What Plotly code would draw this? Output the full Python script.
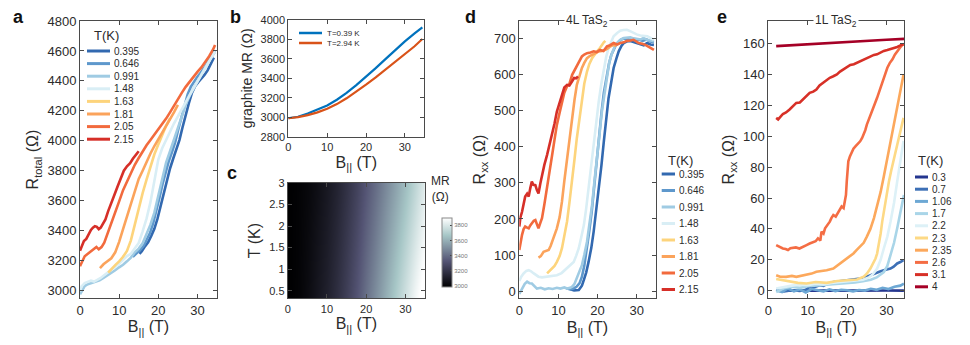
"""
Parallel-field magnetoresistance of TaS2 devices, five panels (a-e) in one figure.
Legends are drawn by hand so their row spacing can match the original layout.
"""

import plotly.graph_objects as go


W, H = 970, 345
FONT = "Liberation Sans, Arial, Helvetica, sans-serif"
INK = "#2b2b2b"
AXIS = "#4a4a4a"

# ── Panel a: total resistance (4L device + graphite) ─────────────────────────
A_TEMPS = ["0.395", "0.646", "0.991", "1.48", "1.63", "1.81", "2.05", "2.15"]
A_COLORS = ["#3269b0", "#5e98cc", "#9fcbe3", "#d9eef5",
            "#fdd47c", "#fba35b", "#f26a3d", "#d62f28"]

A_B_0395 = [15.2, 15.8, 16.6, 17.4, 18.2, 19.0, 19.8, 20.6, 21.4, 22.2, 23.0, 23.8,
            24.6, 25.4, 26.2, 27.0, 27.8, 28.6, 29.4, 30.2, 31.0, 31.8, 32.6, 33.4, 34.2]
A_R_0395 = [3245, 3262, 3295, 3322, 3365, 3412, 3480, 3560, 3650, 3740, 3815, 3880,
            3940, 4005, 4090, 4175, 4250, 4320, 4365, 4392, 4415, 4440, 4470, 4510, 4555]
A_B_0646 = [13.5, 14.5, 15.5, 16.3, 17.1, 17.9, 18.7, 19.5, 20.3, 21.1, 21.9, 22.7, 23.5,
            24.3, 25.1, 25.9, 26.7, 27.5, 28.3, 29.1, 29.9, 30.7, 31.5, 32.3, 33.1, 33.9, 34.5]
A_R_0646 = [3225, 3248, 3275, 3300, 3338, 3385, 3450, 3530, 3620, 3712, 3795, 3865, 3925,
            3990, 4075, 4160, 4240, 4310, 4360, 4395, 4425, 4450, 4478, 4510, 4545, 4578, 4600]
A_B_0991 = [0, 0.5, 1.2, 2, 3, 4, 5, 6, 7, 8, 9, 10, 11, 12, 13, 14, 15, 16, 17, 18,
            19, 20, 21, 22, 23, 24, 25, 26, 27, 28, 29, 30, 31, 32, 33, 34.5]
A_R_0991 = [2975, 3000, 3030, 3042, 3050, 3062, 3068, 3085, 3100, 3118, 3135, 3155, 3172,
            3195, 3220, 3255, 3280, 3315, 3375, 3440, 3520, 3625, 3745, 3855, 3930, 4010,
            4085, 4165, 4240, 4300, 4350, 4400, 4445, 4490, 4535, 4595]
A_B_148 = [0, 0.4, 1.2, 2, 2.8, 3.6, 4.4, 5.2, 6, 7, 8, 9, 10, 11, 12, 13, 14, 15, 16,
           17, 18, 19, 20, 21, 22, 23, 24, 25, 26, 27, 28, 29, 30, 31, 32, 33, 34.5]
A_R_148 = [2995, 3028, 3050, 3058, 3066, 3060, 3070, 3082, 3098, 3115, 3138, 3160, 3178,
           3205, 3230, 3245, 3280, 3318, 3395, 3480, 3590, 3745, 3875, 3950, 4010, 4060,
           4115, 4165, 4215, 4262, 4305, 4350, 4395, 4440, 4483, 4527, 4598]
A_B_163 = [7.2, 8, 9, 10, 11, 12, 13, 14, 15, 16, 17, 18, 19, 20, 21, 22, 23]
A_R_163 = [3120, 3145, 3170, 3195, 3225, 3265, 3335, 3440, 3550, 3650, 3740, 3830,
           3910, 3975, 4040, 4100, 4150]
A_B_181 = [5.1, 6, 7, 8, 9, 10, 11, 12, 13, 14, 15, 16, 17, 18, 19, 20, 21, 22, 23, 24, 25]
A_R_181 = [3150, 3175, 3195, 3215, 3255, 3325, 3410, 3495, 3580, 3665, 3745, 3800, 3860,
           3915, 3965, 4010, 4050, 4095, 4140, 4190, 4240]
A_B_205 = [0, 0.6, 1.2, 2, 2.8, 3.5, 4.2, 4.8, 5.5, 6.2, 7, 8, 9, 10, 11, 12, 13, 14,
           15, 16, 17, 18, 19, 20, 21, 22, 23, 24, 25, 26, 27, 28, 29, 30, 31, 32, 33, 34, 34.5]
A_R_205 = [3162, 3200, 3229, 3245, 3262, 3280, 3290, 3275, 3290, 3320, 3375, 3445, 3520,
           3595, 3670, 3730, 3790, 3840, 3885, 3930, 3970, 4005, 4040, 4075, 4110, 4148,
           4190, 4235, 4280, 4320, 4360, 4395, 4430, 4460, 4490, 4525, 4565, 4610, 4640]
A_B_215 = [0, 0.5, 1, 1.6, 2.2, 2.8, 3.3, 3.8, 4.3, 4.8, 5.3, 5.9, 6.5, 7.2, 8, 8.8,
           9.6, 10.4, 11.2, 12, 12.8, 13.5, 14.2, 15]
A_R_215 = [3265, 3300, 3330, 3345, 3380, 3405, 3420, 3430, 3425, 3410, 3420, 3445, 3475,
           3530, 3580, 3640, 3695, 3750, 3800, 3830, 3850, 3880, 3905, 3930]

# ── Panel b: graphite magnetoresistance ─────────────────────────────────────
B_FIELD = [0, 2.5, 5, 7.5, 10, 12.5, 15, 17.5, 20, 22.5, 25, 27.5, 30, 32.5, 34.5]
B_MR_039 = [2990, 3005, 3038, 3078, 3122, 3180, 3250, 3330, 3415, 3505, 3598, 3690,
            3780, 3862, 3925]
B_MR_294 = [2990, 3002, 3022, 3050, 3088, 3135, 3195, 3262, 3335, 3410, 3490, 3568,
            3650, 3730, 3805]
B_LABELS = ["T=0.39 K", "T=2.94 K"]
B_COLORS = ["#0072bd", "#d95319"]

# ── Panel c: graphite MR map (rows are the two measured temperatures) ────────
C_TEMPS = [0.39, 2.94]
C_TICKS = [3000, 3200, 3400, 3600, 3800]
BONE = [[0.0, "rgb(0,0,1)"], [0.375, "rgb(84,84,116)"],
        [0.75, "rgb(167,199,199)"], [1.0, "rgb(255,255,255)"]]

# ── Panel d: 4L TaS2 ──────────────────────────────────────────────────────
D_B_0395 = [13, 14, 15.2, 16, 16.5, 17.1, 17.7, 18.4, 19, 19.7, 20.3, 21, 21.6, 22.2,
            22.8, 23.5, 24.1, 24.8, 25.4, 26.1, 26.7, 27.4, 28, 28.6, 29.2, 30, 30.9,
            31.8, 32.7, 33.5, 34.4]
D_R_0395 = [5, 2, 3, 15, 31, 52, 81, 120, 165, 225, 285, 350, 415, 480, 535, 580, 619,
            645, 665, 680, 688, 692, 694, 693, 691, 688, 685, 682, 688, 684, 683]
D_B_0646 = [12, 13, 14, 14.6, 15.4, 16, 16.6, 17.2, 17.8, 18.5, 19.1, 19.8, 20.4, 21,
            21.6, 22.3, 22.9, 23.5, 24.2, 24.8, 25.5, 26.1, 26.8, 27.5, 28.3, 29, 29.8,
            30.6, 31.5, 32.5, 33.5, 34.4]
D_R_0646 = [8, 5, 8, 12, 22, 40, 70, 110, 160, 220, 290, 360, 430, 495, 550, 595, 630,
            655, 672, 685, 693, 698, 701, 700, 697, 699, 695, 697, 694, 698, 692, 690]
D_B_0991 = [0, 0.7, 1.4, 2, 2.6, 3.2, 3.9, 4.5, 5.5, 6.5, 7.5, 8.5, 9.6, 10.5, 11.5,
            12.2, 13, 13.5, 14.1, 14.7, 15.4, 16, 16.6, 17.3, 17.9, 18.6, 19.2, 19.9,
            20.5, 21.1, 21.8, 22.4, 23, 23.7, 24.3, 25, 25.8, 26.7, 27.5, 28.4, 29.2,
            30.1, 31, 31.8, 32.6, 33.5, 34.4]
D_R_0991 = [-8, 8, 20, 26, 22, 21, 12, 7, 9, 5, 8, 6, 9, 7, 10, 7, 9, 12, 20, 35, 52,
            72, 100, 137, 185, 239, 305, 369, 435, 498, 552, 600, 635, 660, 676, 688,
            697, 702, 703, 704, 701, 700, 698, 702, 697, 695, 693]
D_B_148 = [0, 0.5, 1.1, 1.8, 2.4, 3, 3.7, 4.3, 4.9, 5.8, 7.1, 8.3, 9.6, 10.8, 12.2, 13,
           13.9, 14.5, 15.2, 15.8, 16.5, 17.1, 17.7, 18.4, 19, 19.6, 20.3, 21, 21.6,
           22.2, 22.8, 23.5, 24.1, 25, 25.8, 26.6, 27.5, 28.3, 29.2, 30, 30.9, 31.8,
           32.7, 33.5, 34.4]
D_R_148 = [28, 40, 49, 56, 58, 55, 49, 44, 40, 38, 40, 42, 44, 50, 63, 70, 81, 97, 119,
           148, 183, 230, 285, 345, 406, 468, 526, 578, 619, 650, 674, 692, 707, 716,
           722, 724, 725, 721, 716, 712, 709, 707, 707, 702, 697]
D_B_163 = [7.1, 7.7, 8.4, 9, 9.6, 10.3, 10.9, 11.5, 12.2, 12.8, 13.5, 14.1, 14.7, 15.4,
           16, 16.6, 17.3, 17.9, 18.6, 19.2, 19.9, 20.5, 21.1, 21.6, 22]
D_R_163 = [49, 55, 63, 70, 81, 97, 119, 150, 193, 245, 304, 365, 424, 482, 535, 575,
           609, 630, 646, 656, 665, 673, 683, 690, 694]
D_B_181 = [4.9, 5.5, 6.2, 6.8, 7.5, 8, 8.4, 9, 9.6, 10.3, 10.9, 11.5, 12.2, 12.8, 13.5,
           14.1, 14.7, 15.4, 16, 16.6, 17.3, 18, 18.6, 19.4, 20.3, 21.1, 22, 22.7, 23.3,
           24.1, 24.8]
D_R_181 = [93, 97, 109, 112, 114, 125, 137, 152, 174, 205, 248, 305, 369, 425, 480,
           530, 572, 600, 619, 633, 646, 652, 656, 660, 665, 666, 669, 674, 679, 683, 680]
D_B_205 = [0, 0.3, 0.7, 1.1, 1.5, 2, 2.4, 2.8, 3.2, 3.7, 4.1, 4.5, 4.9, 5.4, 5.8, 6.4,
           7.1, 7.7, 8.4, 9, 9.6, 10.3, 10.9, 11.5, 12.2, 12.8, 13.5, 14.1, 14.7, 15.4,
           16, 16.6, 17.3, 18.2, 19, 19.8, 20.6, 21.5, 22.4, 23.2, 24.1, 25, 25.8, 26.7,
           27.5, 28.4, 29.2, 29.8, 30.5, 31.4, 32.2, 33.3, 34.4]
D_R_205 = [114, 135, 156, 172, 179, 176, 174, 182, 188, 195, 197, 185, 174, 190, 202,
           240, 285, 330, 378, 420, 461, 495, 526, 550, 568, 575, 600, 612, 628, 640,
           651, 656, 660, 662, 665, 663, 669, 666, 679, 682, 688, 684, 688, 690, 694,
           695, 697, 693, 688, 686, 683, 676, 669]
D_B_215 = [0, 0.3, 0.7, 1.1, 1.5, 2, 2.4, 2.8, 3.2, 3.6, 4.1, 4.5, 4.9, 5.4, 5.8, 6.4,
           7.1, 7.7, 8.4, 9, 9.6, 10.3, 10.9, 11.5, 12.2, 12.8, 13.5, 14, 14.5, 15]
D_R_215 = [179, 205, 220, 245, 262, 270, 262, 285, 304, 295, 294, 280, 271, 300, 322,
           350, 378, 405, 433, 465, 498, 525, 549, 565, 572, 570, 582, 591, 590, 595]

# ── Panel e: 1L TaS2 ──────────────────────────────────────────────────────
E_TEMPS = ["0.3", "0.7", "1.06", "1.7", "2.2", "2.3", "2.35", "2.6", "3.1", "4"]
E_COLORS = ["#24368f", "#3d70b6", "#6da8d4", "#a9d5e8", "#ddf1f7",
            "#fdd985", "#fca85c", "#f46d44", "#d73027", "#a50026"]

E_B_03 = [2, 10, 20, 30, 34.4]
E_R_03 = [0, -0.2, 0, 0.1, 0]
E_B_07 = [2, 4, 6, 8, 9.5, 10.5, 11.5, 12.5, 13, 14, 15, 16.5, 18, 20, 21.5, 23.3,
          24.5, 25.9, 27, 27.6, 28.5, 29.3, 30.2, 31, 31.8, 32.7, 33.5, 34.3]
E_R_07 = [0, -0.5, 0.2, -0.3, 0.5, 2.4, 2, 3, 3.5, 3, 4.5, 5.6, 6, 6.7, 7, 7.8, 8.5,
          10, 11, 12, 12.5, 13.2, 13.8, 14.3, 15.5, 17.6, 18.5, 19.7]
E_B_106 = [2, 3.5, 5, 6.5, 8, 9.5, 11, 12.5, 14, 15.5, 17, 18.5, 20, 21.5, 23, 24.5,
           26, 27.5, 29, 30.5, 32, 33.5, 34.4]
E_R_106 = [0.5, -1, 1.5, -0.5, 0.8, -1.2, 1, 0.2, -0.5, 0.8, -0.3, 0.5, 0.2, -0.6,
           0.4, 0, 1.2, 0.5, 1.8, 1, 2.5, 3.2, 4.5]
E_B_17 = [2, 4, 6, 8, 10, 12, 14, 16, 18, 20, 22, 24, 26, 27.5, 28.5, 29.3, 30.2, 31,
          31.9, 32.7, 33.4, 34, 34.4]
E_R_17 = [-1, 1.5, 2.5, 1.8, 2.8, 3.2, 3.5, 3.8, 4.5, 5, 5.2, 6, 7, 8.5, 10.2, 12, 16,
          23, 31, 40.4, 49, 57, 62]
E_B_22 = [2, 4, 6, 8, 10, 12, 14, 16, 18, 20, 22, 24, 25.5, 26.5, 27.6, 28.5, 29.3,
          30.2, 31, 31.9, 32.7, 33.5, 34.3]
E_R_22 = [1.3, 2.5, 3.2, 3.8, 3.5, 4.5, 4, 5, 5.5, 6, 6.2, 7, 8.5, 10.5, 14.3, 20,
          27.3, 35, 44.7, 57, 70.7, 83, 97]
E_B_23 = [2, 3.5, 5.6, 7.5, 9.7, 12, 14.8, 17.5, 20, 22.5, 24.2, 25, 25.9, 26.6, 27.2,
          27.6, 28, 28.5, 28.9, 29.3, 29.7, 30.2, 30.6, 31.2, 31.9, 32.6, 33.2, 33.8, 34.3]
E_R_23 = [7.5, 6.7, 5.6, 5, 4.6, 5.6, 5, 6.2, 6.7, 7.2, 9, 11, 14.3, 17.5, 20.8, 24,
          29.5, 37, 44.7, 51, 57.7, 64, 70.7, 78, 86, 93, 99, 106, 112]
E_B_235 = [2, 3, 4.5, 6, 7.1, 8.5, 9.7, 11, 12.2, 13.5, 14.8, 16.5, 18.2, 19.9, 21.6,
           22.5, 23.3, 24.2, 25, 25.9, 26.8, 27.6, 28.5, 29.3, 30.2, 31, 31.8, 32.6,
           33.4, 34.3]
E_R_235 = [10, 9, 8.9, 9.5, 8.9, 9.5, 10, 11, 12.2, 12.5, 13.2, 14.3, 17.6, 20.8, 24.1,
           26.5, 28.5, 31, 35, 40, 47, 55, 64, 74, 86, 97, 108, 119, 130, 140]
E_B_26 = [2, 2.8, 3.7, 4.4, 5, 5.6, 6.2, 7, 7.9, 8.8, 9.7, 10.5, 11.4, 12, 12.6, 13.2,
          13.5, 14, 14.4, 15, 15.6, 16, 16.5, 17.1, 17.8, 18.2, 18.6, 19.1, 19.5, 19.7,
          19.9, 20.1, 20.3, 20.7, 21.2, 21.6, 22.1, 22.7, 23.3, 23.8, 24.2, 24.6, 25,
          25.6, 26.3, 27, 27.6, 28.3, 28.9, 29.5, 30.2, 30.8, 31.5, 32.1, 32.7, 33.4,
          34, 34.4]
E_R_26 = [29.5, 28.5, 27.3, 27, 26.3, 27.5, 27.8, 28, 27.3, 28.2, 29.5, 30.5, 31.7, 32,
          33.9, 32.5, 38.2, 37, 40.4, 42.5, 44.7, 47, 49, 48, 51.2, 53, 54.5, 53.5,
          58.8, 62, 70.7, 78, 83.8, 87, 90.3, 92, 93.5, 95, 96.8, 99, 101.1, 104,
          107.6, 112, 116.3, 121, 125, 130.5, 135.8, 140, 144.5, 147.5, 150, 153,
          155.4, 157.5, 159.3, 160]
E_B_31 = [2, 2.5, 3.7, 4.5, 5.4, 6.2, 7.1, 8, 8.8, 9.7, 10.5, 11.4, 12.2, 13, 13.9,
          14.8, 15.6, 16.5, 17.4, 18.2, 19.1, 20, 20.8, 21.7, 22.5, 23.4, 24.2, 25,
          25.9, 26.8, 27.6, 28.5, 29.3, 30.2, 31, 31.9, 32.7, 33.5, 34.3]
E_R_31 = [112, 111, 114.5, 115.5, 117.4, 119.5, 121.7, 122, 123.9, 126.5, 128.2, 129,
          130.4, 133, 134.8, 136.5, 138, 139, 140.2, 142, 143.4, 145, 146.3, 146.8,
          147.8, 148.5, 150, 150.8, 152.1, 152.8, 153.2, 154.5, 155.4, 156, 156.5,
          157.2, 158, 159, 159.7]
E_B_4 = [2, 10, 20, 30, 34.5]
E_R_4 = [158.5, 159.8, 161.3, 162.6, 163.2]


# ── Layout helpers (pixel boxes measured on the 970x345 canvas) ───────────────
BOX = {
    "a": ((80, 217), (21, 298)),
    "b": ((288.3, 424.3), (20, 136.7)),
    "c": ((287.7, 425), (182.7, 298.3)),
    "d": ((519.3, 655.5), (20.7, 298.3)),
    "e": ((768.3, 904.3), (20.7, 298.3)),
}


def px(x):
    return x / W


def py(y):
    return 1 - y / H


def dom(key):
    (x0, x1), (y0, y1) = BOX[key]
    return [px(x0), px(x1)], [py(y1), py(y0)]


def axis_style(tick_size=13):
    return dict(
        showline=True, linecolor=AXIS, linewidth=1, mirror="ticks", automargin=False,
        ticks="inside", ticklen=4, tickcolor=AXIS, showgrid=False, zeroline=False,
        tickfont=dict(size=tick_size, color=INK, family=FONT),
    )


def text_at(x, y, text, size, anchor="center", **kw):
    """Annotation placed by canvas pixels, anchored explicitly."""
    return dict(x=px(x), y=py(y), xref="paper", yref="paper", text=text,
                showarrow=False, xanchor=anchor, yanchor="middle",
                font=dict(size=size, color=kw.pop("color", INK), family=FONT), **kw)


def add_lines(fig, series, colors, xa, ya, width=2.6):
    for (bx, ry), color in zip(series, colors):
        fig.add_trace(go.Scatter(
            x=bx, y=ry, mode="lines", xaxis=xa, yaxis=ya, showlegend=False,
            line=dict(color=color, width=width), hoverinfo="skip",
        ))


def add_legend(shapes, notes, labels, colors, line_x, text_x, row0, step,
               title=None, title_pos=None, size=10, width=3):
    if title:
        notes.append(text_at(title_pos[0], title_pos[1], title, 13))
    for i, (label, color) in enumerate(zip(labels, colors)):
        y = row0 + i * step
        shapes.append(dict(
            type="line", xref="paper", yref="paper", x0=px(line_x[0]), x1=px(line_x[1]),
            y0=py(y), y1=py(y), line=dict(color=color, width=width),
        ))
        notes.append(text_at(text_x, y, label, size, anchor="left"))


fig = go.Figure()

# a
add_lines(fig, [(A_B_0395, A_R_0395), (A_B_0646, A_R_0646), (A_B_0991, A_R_0991),
                (A_B_148, A_R_148), (A_B_163, A_R_163), (A_B_181, A_R_181),
                (A_B_205, A_R_205), (A_B_215, A_R_215)], A_COLORS, "x", "y")

# b
add_lines(fig, [(B_FIELD, B_MR_039), (B_FIELD, B_MR_294)], B_COLORS, "x2", "y2", width=2.2)

# c
fig.add_trace(go.Heatmap(
    x=B_FIELD, y=C_TEMPS, z=[B_MR_039, B_MR_294], xaxis="x3", yaxis="y3",
    zsmooth="best", colorscale=BONE, zmin=2990, zmax=3900, hoverinfo="skip",
    colorbar=dict(
        x=px(431.7), xanchor="left", y=py(296.7), yanchor="bottom",
        len=88.7 / H, lenmode="fraction", thickness=10, thicknessmode="pixels",
        outlinewidth=1, outlinecolor="#888888", ticks="inside", ticklen=2,
        tickvals=C_TICKS, tickfont=dict(size=6, color="#777777"),
    ),
))

# d
add_lines(fig, [(D_B_0395, D_R_0395), (D_B_0646, D_R_0646), (D_B_0991, D_R_0991),
                (D_B_148, D_R_148), (D_B_163, D_R_163), (D_B_181, D_R_181),
                (D_B_205, D_R_205), (D_B_215, D_R_215)], A_COLORS, "x4", "y4")

# e
add_lines(fig, [(E_B_03, E_R_03), (E_B_07, E_R_07), (E_B_106, E_R_106),
                (E_B_17, E_R_17), (E_B_22, E_R_22), (E_B_23, E_R_23),
                (E_B_235, E_R_235), (E_B_26, E_R_26), (E_B_31, E_R_31),
                (E_B_4, E_R_4)], E_COLORS, "x5", "y5")

B_TITLE = "B<sub>||</sub> (T)"
layout = {}
for n, key, xr, yr, ytitle, ydt, tsize in [
    ("", "a", [0, 35], [2950, 4800], "R<sub>total</sub> (Ω)", 200, 13),
    ("2", "b", [0, 35], [2800, 4000], "graphite MR (Ω)", 200, 11),
    ("3", "c", [0, 35], [0.33, 3], "T (K)", 0.5, 11),
    ("4", "d", [0, 34.8], [-20, 750], "R<sub>xx</sub> (Ω)", 100, 13),
    ("5", "e", [0, 34.5], [-5, 175], "R<sub>xx</sub> (Ω)", 20, 13),
]:
    xd, yd = dom(key)
    title_size = 14 if key == "b" else 16
    layout["xaxis" + n] = dict(
        axis_style(tsize), domain=xd, range=xr, dtick=10, anchor="y" + n,
        title=dict(text=B_TITLE, font=dict(size=16, color=INK), standoff=4),
    )
    layout["yaxis" + n] = dict(
        axis_style(tsize), domain=yd, range=yr, dtick=ydt, anchor="x" + n,
        title=dict(text=ytitle, font=dict(size=title_size, color=INK), standoff=4),
    )
layout["yaxis3"]["tickvals"] = [0.5, 1, 1.5, 2, 2.5, 3]

shapes, notes = [], []

# panel letters
for letter, (lx, ly) in {"a": (18, 17), "b": (235, 17), "c": (232, 173),
                         "d": (470, 17), "e": (722, 17)}.items():
    notes.append(text_at(lx, ly, f"<b>{letter}</b>", 18, color="#111111"))

# sample titles sitting on the top frame
for key, text in [("d", "4L TaS<sub>2</sub>"), ("e", "1L TaS<sub>2</sub>")]:
    (x0, x1), (y0, _) = BOX[key]
    notes.append(text_at((x0 + x1) / 2, y0, text, 12, bgcolor="white", borderpad=1))

notes.append(text_at(440, 189, "MR<br>(Ω)", 12))

add_legend(shapes, notes, A_TEMPS, A_COLORS, (87, 110), 112, 51, 12.6,
           title="T(K)", title_pos=(106, 35))
add_legend(shapes, notes, A_TEMPS, A_COLORS, (661.7, 675), 677, 174, 16.5,
           title="T(K)", title_pos=(680, 160))
add_legend(shapes, notes, E_TEMPS, E_COLORS, (915, 928), 930, 177, 12.2,
           title="T(K)", title_pos=(930, 160))
add_legend(shapes, notes, B_LABELS, B_COLORS, (299, 322), 325, 33, 10, size=8, width=2.5)

fig.update_layout(
    width=W, height=H, margin=dict(l=0, r=0, t=0, b=0),
    paper_bgcolor="white", plot_bgcolor="white",
    font=dict(family=FONT, color=INK),
    shapes=shapes, annotations=notes, **layout,
)

# the page's default body margin would push the 970x345 canvas 8px right and down
fig.write_html("out.html", config={"displayModeBar": False},
               post_script="document.body.style.margin = '0';")
